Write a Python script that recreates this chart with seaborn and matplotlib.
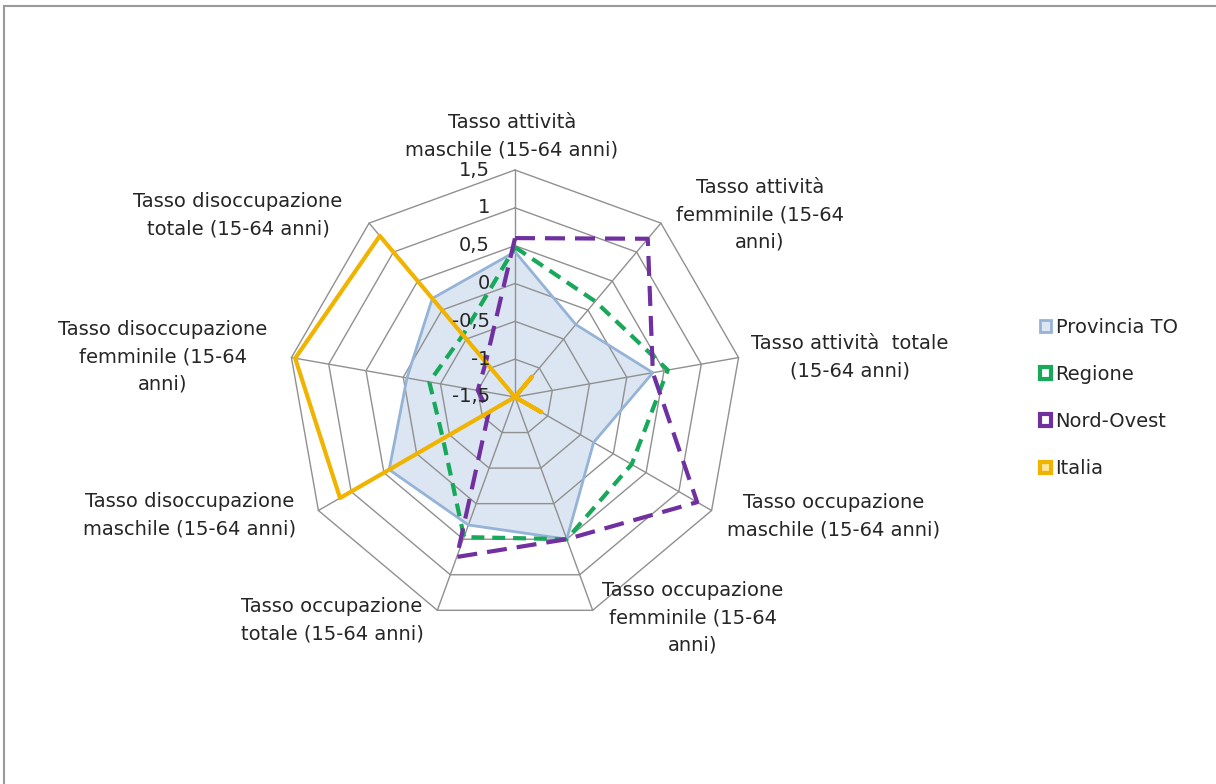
import numpy as np
import pandas as pd
import matplotlib
matplotlib.use('Agg')
import matplotlib.pyplot as plt
from matplotlib.patches import Patch, Rectangle
import seaborn as sns

# categorie (assi del radar, in senso orario dall'alto)
categorie = ['Tasso attività\nmaschile (15-64 anni)',
             'Tasso attività\nfemminile (15-64\nanni)',
             'Tasso attività  totale\n(15-64 anni)',
             'Tasso occupazione\nmaschile (15-64 anni)',
             'Tasso occupazione\nfemminile (15-64\nanni)',
             'Tasso occupazione\ntotale (15-64 anni)',
             'Tasso disoccupazione\nmaschile (15-64 anni)',
             'Tasso disoccupazione\nfemminile (15-64\nanni)',
             'Tasso disoccupazione\ntotale (15-64 anni)']

provincia_to = [0.42, -0.25, 0.35, -0.3, 0.5, 0.3, 0.42, -0.05, 0.2]
regione = [0.48, 0.15, 0.55, 0.28, 0.5, 0.47, -0.4, -0.35, -0.43]
nord_ovest = [0.6, 1.23, 0.35, 1.28, 0.5, 0.75, -1.1, -1.0, -0.9]
italia = [-1.5, -1.15, -1.5, -1.1, -1.5, -1.5, 1.17, 1.45, 1.28]

serie = ['Provincia TO', 'Regione', 'Nord-Ovest', 'Italia']
livelli = [-1.5, -1, -0.5, 0, 0.5, 1, 1.5]
etichette_livelli = ['-1,5', '-1', '-0,5', '0', '0,5', '1', '1,5']

sns.set_theme(style='white')
plt.rcParams['font.family'] = ['DejaVu Sans']

W, H = 1216, 784
fs = 14
fig = plt.figure(figsize=(W / 100, H / 100), dpi=100)
fig.patch.set_facecolor('white')

# cornice grigia
fig.patches.append(Rectangle((4 / W, -0.1), 1.2, 1.1 - 6 / H, transform=fig.transFigure,
                             fill=False, edgecolor='#9a9a9a', lw=1.5))

cx, cy, R = 515, 397, 227
ax = fig.add_axes([(cx - R) / W, (H - cy - R) / H, 2 * R / W, 2 * R / H], projection='polar')
ax.set_theta_zero_location('N')
ax.set_theta_direction(-1)
ax.grid(False)
ax.spines['polar'].set_visible(False)
ax.patch.set_alpha(0)

n = len(categorie)
theta = np.deg2rad(np.arange(n) * 360 / n)
theta_c = np.append(theta, theta[0])

# griglia poligonale
for lv in livelli[1:]:
    ax.plot(theta_c, [lv] * (n + 1), color='#909090', lw=1, zorder=2, clip_on=False)
for t in theta:
    ax.plot([t, t], [-1.5, 1.5], color='#909090', lw=1, zorder=2, clip_on=False)

for lv, lab in zip(livelli, etichette_livelli):
    ax.annotate(lab, xy=(0, lv), xytext=(-25, 0), textcoords='offset pixels',
                ha='right', va='center', fontsize=fs, color='#262626', zorder=10)


def chiudi(v):
    return pd.DataFrame({'theta': theta_c, 'valore': list(v) + [v[0]]})


d = chiudi(provincia_to)
ax.fill(d['theta'], d['valore'], color='#dce6f2', zorder=1)
sns.lineplot(data=d, x='theta', y='valore', sort=False, estimator=None, ax=ax,
             color='#95b3d7', lw=2, zorder=3)

d = chiudi(regione)
sns.lineplot(data=d, x='theta', y='valore', sort=False, estimator=None, ax=ax,
             color='#17a85a', lw=3, linestyle=(0, (3.1, 1.9)), zorder=4)

d = chiudi(nord_ovest)
sns.lineplot(data=d, x='theta', y='valore', sort=False, estimator=None, ax=ax,
             color='#7030a0', lw=3, linestyle=(0, (4.8, 2.4)), zorder=5)

d = chiudi(italia)
sns.lineplot(data=d, x='theta', y='valore', sort=False, estimator=None, ax=ax,
             color='#f0b400', lw=3, zorder=6)

ax.set_xlabel('')
ax.set_ylabel('')
ax.set_xticks([])
ax.set_yticks([])
ax.set_ylim(-1.5, 1.5)

# etichette delle categorie (posizione in pixel)
pos_etichette = [(512, 136), (760, 215), (850, 357), (834, 516), (693, 618),
                 (332, 620), (190, 515), (163, 357), (238, 215)]
for lab, (px, py) in zip(categorie, pos_etichette):
    fig.text(px / W, 1 - py / H, lab, ha='center', va='center', fontsize=fs,
             linespacing=1.55, color='#262626')

handles = [Patch(facecolor='#dce6f2', edgecolor='#95b3d7', lw=2),
           Patch(facecolor='white', edgecolor='#17a85a', lw=3),
           Patch(facecolor='white', edgecolor='#7030a0', lw=3),
           Patch(facecolor='#ffe699', edgecolor='#f0b400', lw=3)]
fig.legend(handles, serie, loc='center left', bbox_to_anchor=(1040 / W, 1 - 398 / H),
           frameon=False, fontsize=fs, handlelength=0.55, handleheight=0.55,
           handletextpad=0.25, labelspacing=1.45, borderpad=0, borderaxespad=0)

fig.savefig('out.png', dpi=100, facecolor='white')
